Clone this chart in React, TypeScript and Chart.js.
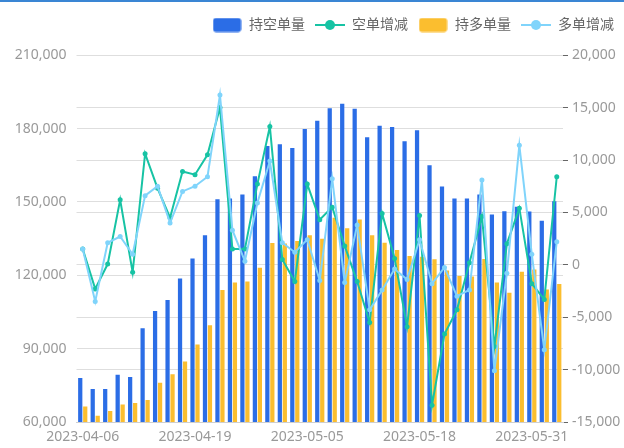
import { useEffect, useRef } from 'react';
import { Chart, registerables } from 'chart.js';

Chart.register(...registerables);

const dates = [
  '2023-04-06', '2023-04-07', '2023-04-10', '2023-04-11', '2023-04-12', '2023-04-13', '2023-04-14',
  '2023-04-17', '2023-04-18', '2023-04-19', '2023-04-20', '2023-04-21', '2023-04-24', '2023-04-25',
  '2023-04-26', '2023-04-27', '2023-04-28', '2023-05-04', '2023-05-05', '2023-05-08', '2023-05-09',
  '2023-05-10', '2023-05-11', '2023-05-12', '2023-05-15', '2023-05-16', '2023-05-17', '2023-05-18',
  '2023-05-19', '2023-05-22', '2023-05-23', '2023-05-24', '2023-05-25', '2023-05-26', '2023-05-29',
  '2023-05-30', '2023-05-31', '2023-06-01', '2023-06-02',
];

// 持空单量
const shortVolume = [
  78000, 73500, 73500, 79300, 78400, 98300, 105400, 109900, 118700, 126900,
  136400, 151100, 151400, 153000, 160500, 172900, 173600, 172000, 179800, 183200,
  188300, 190100, 188100, 176400, 181200, 180600, 174800, 179300, 165000, 156300,
  151400, 151400, 153000, 144900, 146200, 148000, 146100, 142300, 150300,
];

// 空单增减
const shortChange = [
  1500, -2300, 70, 6200, -700, 10600, 7300, 4500, 8900, 8600,
  10500, 15000, 1500, 1500, 7700, 13200, 500, -1600, 7700, 4300,
  5500, 1800, -1600, -5500, 4900, 600, -5900, 4700, -13400, -6600,
  -4300, 200, 4600, -7800, 2000, 5400, -1800, -3300, 8400,
];

// 持多单量
const longVolume = [
  66300, 62600, 64500, 67200, 67800, 69000, 76000, 79500, 84700, 91700,
  99600, 114000, 117000, 117500, 123100, 133200, 133000, 134000, 136400, 134900,
  143500, 139200, 142800, 136400, 133300, 130300, 127900, 127600, 126600, 122000,
  119700, 119500, 126700, 117000, 112900, 121400, 122400, 114200, 116400,
];

// 多单增减
const longChange = [
  1500, -3500, 2100, 2700, 1000, 6600, 7500, 4000, 7000, 7500,
  8400, 16200, 3300, 350, 5900, 9900, 2100, 1200, 2400, -1500,
  8200, -1700, 3800, -4300, -2400, -400, -1400, 2400, -1800, -250,
  -3000, -2400, 8100, -10100, -800, 11400, 1000, -8100, 2200,
];

const seriesNames = ['持空单量', '空单增减', '持多单量', '多单增减'];
const leftMin = 60000;
const leftMax = 210000;
const leftStep = 30000;
const rightMin = -15000;
const rightMax = 20000;
const rightStep = 5000;
const labelEvery = 9;

const BLUE = '#2b6de6';
const ORANGE = '#fbbe2f';
const TEAL = '#17c3a4';
const LBLUE = '#80d4fb';
const FONT = '"Noto Sans", "Noto Sans CJK SC", sans-serif';

function makeRectIcon(color: string) {
  const c = document.createElement('canvas');
  c.width = 29;
  c.height = 15;
  const g = c.getContext('2d')!;
  g.fillStyle = color;
  g.beginPath();
  (g as any).roundRect(0.5, 0.5, 28, 14, 3);
  g.fill();
  return c;
}

function makeLineIcon(color: string) {
  const c = document.createElement('canvas');
  c.width = 30;
  c.height = 14;
  const g = c.getContext('2d')!;
  g.strokeStyle = color;
  g.lineWidth = 2;
  g.beginPath();
  g.moveTo(0, 7);
  g.lineTo(30, 7);
  g.stroke();
  g.fillStyle = color;
  g.beginPath();
  g.arc(15, 7, 5, 0, Math.PI * 2);
  g.fill();
  return c;
}

const fmt = (v: number) => Number(v).toLocaleString('en-US');

export default function App() {
  const ref = useRef<HTMLCanvasElement | null>(null);

  useEffect(() => {
    document.body.style.margin = '0';
    const canvas = ref.current;
    if (!canvas) return;
    const icons = [makeRectIcon(BLUE), makeLineIcon(TEAL), makeRectIcon(ORANGE), makeLineIcon(LBLUE)];
    const colors = [BLUE, TEAL, ORANGE, LBLUE];

    const chart = new Chart(canvas, {
      type: 'bar',
      data: {
        labels: dates,
        datasets: [
          {
            type: 'bar',
            label: seriesNames[0],
            data: shortVolume,
            backgroundColor: BLUE,
            yAxisID: 'y',
            order: 2,
            categoryPercentage: 0.8,
            barPercentage: 0.85,
          },
          {
            type: 'line',
            label: seriesNames[1],
            data: shortChange,
            borderColor: TEAL,
            backgroundColor: TEAL,
            borderWidth: 2,
            pointRadius: 2.5,
            pointBorderWidth: 0,
            pointBackgroundColor: TEAL,
            yAxisID: 'y1',
            order: 1,
            tension: 0,
          },
          {
            type: 'bar',
            label: seriesNames[2],
            data: longVolume,
            backgroundColor: ORANGE,
            yAxisID: 'y',
            order: 2,
            categoryPercentage: 0.8,
            barPercentage: 0.85,
          },
          {
            type: 'line',
            label: seriesNames[3],
            data: longChange,
            borderColor: LBLUE,
            backgroundColor: LBLUE,
            borderWidth: 2,
            pointRadius: 2.5,
            pointBorderWidth: 0,
            pointBackgroundColor: LBLUE,
            yAxisID: 'y1',
            order: 0,
            tension: 0,
          },
        ] as any,
      },
      options: {
        responsive: false,
        animation: false,
        layout: { padding: { top: 8, left: 0, right: 0, bottom: 2 } },
        plugins: {
          tooltip: { enabled: false },
          title: {
            display: true,
            text: '',
            weight: 500,
            font: { size: 1 },
            padding: { top: 0, bottom: 12 },
          } as any,
          legend: {
            display: true,
            position: 'top',
            align: 'end',
            labels: {
              usePointStyle: true,
              pointStyleWidth: 30,
              boxHeight: 14,
              padding: 10,
              color: '#666',
              font: { size: 14, family: FONT },
              generateLabels: () =>
                seriesNames.map((name, i) => ({
                  text: name,
                  pointStyle: icons[i] as any,
                  fillStyle: colors[i],
                  strokeStyle: colors[i],
                  lineWidth: 0,
                  hidden: false,
                  datasetIndex: i,
                  fontColor: '#666',
                })),
            },
          },
        },
        scales: {
          x: {
            type: 'category',
            offset: true,
            grid: { display: false, drawTicks: false },
            border: { display: true, color: '#cfcfcf' },
            ticks: {
              autoSkip: false,
              maxRotation: 0,
              minRotation: 0,
              padding: 7,
              color: '#999',
              font: { size: 14, family: FONT },
              callback: (_v: any, i: number) => (i % labelEvery === 0 ? dates[i] : ''),
            },
            afterFit: (s: any) => {
              s.height = 24;
            },
          },
          y: {
            type: 'linear',
            position: 'left',
            min: leftMin,
            max: leftMax,
            grid: { color: '#dedede', drawTicks: false },
            border: { display: false },
            ticks: {
              stepSize: leftStep,
              padding: 10,
              color: '#999',
              font: { size: 14, family: FONT },
              callback: (v: any) => fmt(v),
            },
            afterFit: (s: any) => {
              s.width = 76.5;
            },
          },
          y1: {
            type: 'linear',
            position: 'right',
            min: rightMin,
            max: rightMax,
            grid: { color: '#dedede', drawTicks: true, tickLength: 5, tickColor: '#666' },
            border: { display: false },
            ticks: {
              stepSize: rightStep,
              padding: 4,
              color: '#999',
              font: { size: 14, family: FONT },
              callback: (v: any) => fmt(v),
            },
            afterFit: (s: any) => {
              s.width = 61;
            },
          },
        },
      } as any,
    });
    return () => chart.destroy();
  }, []);

  return (
    <div style={{ position: 'relative', width: 624, height: 448, background: '#fff' }}>
      <canvas ref={ref} width={624} height={448} style={{ display: 'block' }} />
      <div
        style={{
          position: 'absolute',
          left: 0,
          top: 0,
          width: 624,
          height: 2,
          background: '#3a86d4',
        }}
      />
    </div>
  );
}
